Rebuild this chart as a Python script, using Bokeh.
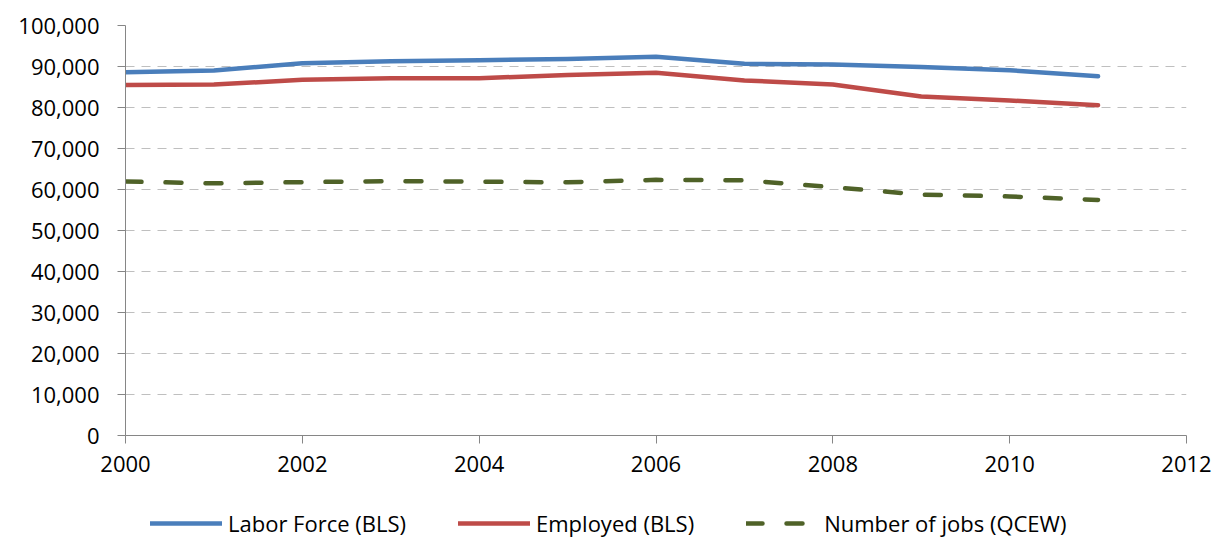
from bokeh.plotting import figure
from bokeh.layouts import column
from bokeh.models import Range1d, FixedTicker, NumeralTickFormatter, Legend, LegendItem
from bokeh.embed import file_html
from bokeh.resources import INLINE

years = [2000, 2001, 2002, 2003, 2004, 2005, 2006, 2007, 2008, 2009, 2010, 2011]
labor_force = [88600, 89000, 90800, 91300, 91550, 91850, 92400, 90650, 90500, 89850, 89100, 87600]
employed = [85500, 85600, 86750, 87150, 87150, 87900, 88500, 86600, 85600, 82700, 81700, 80550]
jobs = [61950, 61500, 61800, 62050, 61900, 61750, 62350, 62250, 60550, 58750, 58300, 57450]

series_labels = ["Labor Force (BLS)", "Employed (BLS)", "Number of jobs (QCEW)"]
x_ticks = [2000, 2002, 2004, 2006, 2008, 2010, 2012]
y_ticks = [0, 10000, 20000, 30000, 40000, 50000, 60000, 70000, 80000, 90000, 100000]

FONT = "Open Sans"
COLORS = ["#4A7EBB", "#BE4B48", "#4F6228"]
DASHES = ["solid", "solid", "16 24"]
DATA = [labor_force, employed, jobs]

p = figure(frame_width=1061, frame_height=410, output_backend="svg", toolbar_location=None,
           x_range=Range1d(2000, 2012), y_range=Range1d(0, 100000),
           min_border_left=125, min_border_right=31, min_border_top=25, min_border_bottom=50)
p.outline_line_color = None
p.background_fill_color = "white"

for d, c, ds in zip(DATA, COLORS, DASHES):
    p.line(years, d, line_color=c, line_width=4.5, line_cap="round", line_join="round", line_dash=ds)

for ax in (p.xaxis[0], p.yaxis[0]):
    ax.axis_line_color = "#868686"
    ax.major_tick_line_color = "#868686"
    ax.minor_tick_line_color = None
    ax.major_tick_in = 0
    ax.major_tick_out = 8
    ax.major_label_text_font = FONT
    ax.major_label_text_font_size = "22px"
    ax.major_label_text_color = "black"

p.xaxis.ticker = FixedTicker(ticks=x_ticks)
p.yaxis.ticker = FixedTicker(ticks=y_ticks)
p.yaxis.formatter = NumeralTickFormatter(format="0,0")
p.xaxis.major_label_standoff = 12
p.yaxis.major_label_standoff = 18

p.xgrid.grid_line_color = None
p.ygrid.grid_line_color = "#BFBFBF"
p.ygrid.grid_line_dash = "9 7"
p.ygrid.grid_line_width = 1

# legend strip below the chart
leg = figure(width=1217, height=53, output_backend="svg", toolbar_location=None,
             x_range=Range1d(0, 1), y_range=Range1d(0, 1), min_border=0)
leg.axis.visible = False
leg.grid.visible = False
leg.outline_line_color = None
items = []
for d, c, ds, lab in zip(DATA, COLORS, DASHES, series_labels):
    r = leg.line(years, d, line_color=c, line_width=4.5, line_cap="round", line_join="round", line_dash=ds)
    items.append(LegendItem(label=lab, renderers=[r]))

legend = Legend(items=items, orientation="horizontal", location=(25, 0))
legend.label_text_font = FONT
legend.label_text_font_size = "22px"
legend.label_text_color = "black"
legend.glyph_width = 72
legend.glyph_height = 20
legend.label_standoff = 6
legend.spacing = 52
legend.padding = 0
legend.margin = 0
legend.border_line_color = None
legend.background_fill_alpha = 0
leg.add_layout(legend, "center")

layout = column(p, leg, spacing=0)
open("out.html", "w").write(file_html(layout, INLINE))
